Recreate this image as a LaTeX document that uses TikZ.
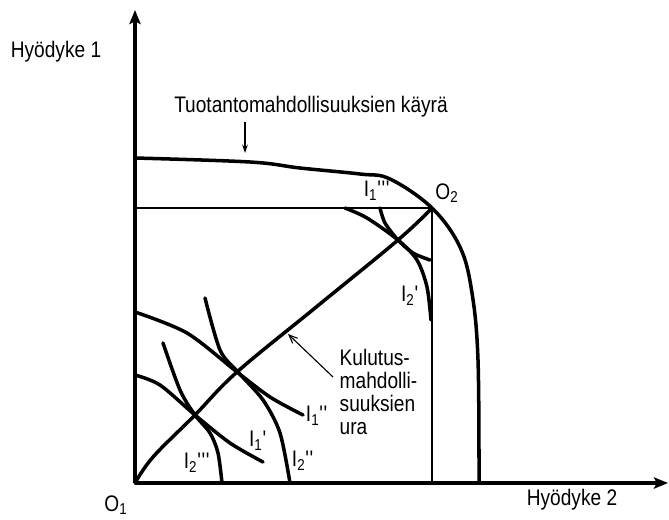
\documentclass[tikz,border=0pt]{standalone}
\usepackage{fontspec}
\setmainfont[FakeStretch=0.85]{Liberation Sans}
\usetikzlibrary{arrows.meta, positioning}
\newcommand{\prm}{\textquotesingle}

\begin{document}
\begin{tikzpicture}[x=1.25cm, y=1.25cm,
    font=\fontsize{16}{18}\selectfont,
    axis/.style={line width=2.3pt, -{Stealth[length=10pt, width=8pt, inset=2pt]}},
    curve/.style={line width=2.5pt, line cap=round},
    thinline/.style={line width=0.8pt},
    lbl/.style={inner sep=1pt}]
  \useasboundingbox (-2.7,-0.72) rectangle (10.68,9.66);

  \coordinate (O1) at (0,0);
  \coordinate (O2) at (5.94,5.5);
  \coordinate (Ytip) at (0,9.46);
  \coordinate (Xtip) at (10.66,0);

  % axes
  \draw[axis] (O1) -- (Ytip);
  \draw[axis] (O1) -- (Xtip);
  \node[lbl] (hy1) at (-1.58,8.62) {Hyödyke 1};
  \node[lbl] (hy2) at (8.74,-0.34) {Hyödyke 2};
  \node[lbl] (o1) at (-0.38,-0.44) {O\textsubscript{1}};
  \node[lbl] (o2) at (6.24,5.8) {O\textsubscript{2}};

  % box of the second consumer
  \draw[thinline] (0,5.5) -- (O2) -- (5.94,0);

  % production possibility curve
  \draw[curve] plot[smooth, tension=0.6] coordinates {(0,6.5) (2.3,6.42) (3.3,6.3) (4.5,6.18) (5.1,6.08) (O2) (6.5,4.72) (6.74,3.8) (6.86,2.46) (6.88,0)};
  \node[lbl] (ppf) at (3.52,7.52) {Tuotantomahdollisuuksien käyrä};
  \coordinate (ppfpt) at (2.2,6.6);
  \draw[thinline, -{Stealth[length=6pt, width=4pt]}] (2.2,7.22) -- (ppfpt);

  % contract curve
  \draw[curve] plot[smooth, tension=0.6] coordinates {(O1) (0.36,0.52) (1.2,1.36) (2.04,2.22) (3.6,3.5) (5.26,4.86) (O2)};

  % indifference curves
  \draw[curve] plot[smooth] coordinates {(0,3.42) (1.04,3.0) (2.04,2.22) (2.7,1.72) (3.36,1.36)};
  \draw[curve] plot[smooth] coordinates {(0,2.16) (0.5,1.96) (1.2,1.36) (1.9,0.8) (2.56,0.42)};
  \draw[curve] plot[smooth] coordinates {(1.4,3.7) (1.7,2.66) (2.06,2.22) (2.56,1.66) (2.9,1.0) (3.1,0)};
  \draw[curve] plot[smooth] coordinates {(0.56,2.8) (0.9,1.86) (1.2,1.36) (1.5,1.0) (1.66,0.6) (1.74,0)};
  \draw[curve] plot[smooth] coordinates {(4.9,5.5) (5.0,5.2) (5.26,4.86) (5.56,4.6) (5.9,4.46)};
  \draw[curve] plot[smooth] coordinates {(4.2,5.5) (4.64,5.3) (5.26,4.86) (5.64,4.46) (5.84,3.92) (5.92,3.26)};

  \node[lbl] (i1c) at (4.84,5.84) {I\textsubscript{1}\prm\prm\prm};
  \node[lbl] (i2a) at (5.5,3.74) {I\textsubscript{2}\prm};
  \node[lbl] (i1b) at (3.64,1.34) {I\textsubscript{1}\prm\prm};
  \node[lbl] (i1a) at (2.46,0.84) {I\textsubscript{1}\prm};
  \node[lbl] (i2c) at (1.24,0.4) {I\textsubscript{2}\prm\prm\prm};
  \node[lbl] (i2b) at (3.36,0.44) {I\textsubscript{2}\prm\prm};

  \node[lbl, anchor=north west, align=left, font=\fontsize{16}{16.3}\selectfont] (ura) at (4.06,2.7) {Kulutus-\\mahdolli-\\suuksien\\ura};
  \coordinate (urapt) at (3.06,2.98);
  \draw[thinline, -{Straight Barb[length=6pt, width=5pt]}] (3.96,2.12) -- (urapt);
\end{tikzpicture}
\end{document}
